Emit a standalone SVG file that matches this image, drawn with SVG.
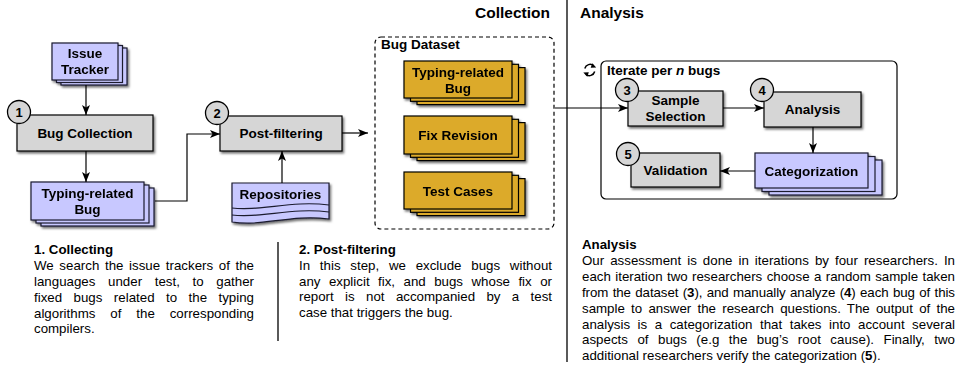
<svg xmlns="http://www.w3.org/2000/svg" width="977" height="368" viewBox="0 0 977 368">
<style>
text{font-family:"Liberation Sans",Arial,Helvetica,sans-serif;fill:#000}
.lbl{font-size:13.5px;font-weight:bold;text-anchor:middle}
.num{font-size:13px;font-weight:bold;text-anchor:middle}
.ttl{font-size:15.5px;font-weight:bold}
.hd{font-size:13.3px;font-weight:bold}
.bd{font-size:13.3px}
.gray{fill:#d6d6d6;stroke:#000;stroke-width:1.2}
.pur{fill:#c8c8ff;stroke:#1a1a2e;stroke-width:1.2}
.gold{fill:#dcaa2a;stroke:#000;stroke-width:1.2}
.circ{fill:#d6d6d6;stroke:#000;stroke-width:1.3}
.conn path{fill:none;stroke:#000;stroke-width:1.2}
.div{stroke:#000;stroke-width:1.3}
</style>
<defs>
<marker id="ah" viewBox="0 0 10 8" refX="10" refY="4" markerWidth="10" markerHeight="8" orient="auto" markerUnits="userSpaceOnUse"><path d="M0,0 L10,4 L0,8 L2.5,4 Z" fill="#000"/></marker>
<filter id="sh" x="-10%" y="-10%" width="130%" height="140%"><feDropShadow dx="1.5" dy="2" stdDeviation="1.3" flood-color="#000" flood-opacity="0.55"/></filter>
</defs>
<rect width="977" height="368" fill="#fff"/>

<!-- titles and dividers -->
<text class="ttl" x="550" y="18" text-anchor="end">Collection</text>
<text class="ttl" x="580" y="18">Analysis</text>
<line class="div" x1="567" y1="0" x2="567" y2="362"/>
<line class="div" x1="278" y1="242" x2="278" y2="341"/>

<!-- Collection nodes -->
<g id="issue-tracker" filter="url(#sh)">
<rect class="pur" x="61" y="48" width="66" height="37"/>
<rect class="pur" x="56.5" y="45.5" width="66" height="37"/>
<rect class="pur" x="52" y="43" width="66" height="37"/>
<text class="lbl" x="85" y="58">Issue</text>
<text class="lbl" x="85" y="74">Tracker</text>
</g>

<g id="bug-collection">
<rect class="gray" x="17" y="115" width="136" height="36" filter="url(#sh)"/>
<text class="lbl" x="85" y="138">Bug Collection</text>
<circle class="circ" cx="19" cy="112" r="11.5"/>
<text class="num" x="19" y="116.5">1</text>
</g>

<g id="typing-related-bug" filter="url(#sh)">
<rect class="pur" x="41" y="188" width="113" height="38"/>
<rect class="pur" x="36" y="185" width="113" height="38"/>
<rect class="pur" x="31" y="182" width="113" height="38"/>
<text class="lbl" x="87.5" y="198">Typing-related</text>
<text class="lbl" x="87.5" y="214">Bug</text>
</g>

<g id="post-filtering">
<rect class="gray" x="220" y="116" width="122" height="35" filter="url(#sh)"/>
<text class="lbl" x="281" y="138">Post-filtering</text>
<circle class="circ" cx="217" cy="113" r="11.5"/>
<text class="num" x="217" y="117.5">2</text>
</g>

<g id="repositories" filter="url(#sh)">
<path class="pur" d="M232,183 H329 V219 C290,214 262,227 232,222 Z"/>
<path d="M232,208 C262,212 290,200 329,205" fill="none" stroke="#1a1a2e" stroke-width="1.2"/>
<path d="M232,215 C262,219 290,207 329,212" fill="none" stroke="#1a1a2e" stroke-width="1.2"/>
<text class="lbl" x="280.5" y="199">Repositories</text>
</g>

<g id="bug-dataset">
<rect x="375" y="37" width="179" height="192" rx="6" fill="none" stroke="#000" stroke-width="1.2" stroke-dasharray="4,3"/>
<text x="381" y="49" font-size="13.5px" font-weight="bold">Bug Dataset</text>
</g>

<g id="ds-typing-related-bug" filter="url(#sh)">
<rect class="gold" x="417" y="67.6" width="108" height="37"/>
<rect class="gold" x="410.5" y="64.3" width="108" height="37"/>
<rect class="gold" x="404" y="61" width="108" height="37"/>
<text class="lbl" x="458" y="77">Typing-related</text>
<text class="lbl" x="458" y="92.5">Bug</text>
</g>

<g id="fix-revision" filter="url(#sh)">
<rect class="gold" x="417" y="122.6" width="108" height="38"/>
<rect class="gold" x="410.5" y="119.3" width="108" height="38"/>
<rect class="gold" x="404" y="116" width="108" height="38"/>
<text class="lbl" x="458" y="140">Fix Revision</text>
</g>

<g id="test-cases" filter="url(#sh)">
<rect class="gold" x="417" y="178.6" width="108" height="37"/>
<rect class="gold" x="410.5" y="175.3" width="108" height="37"/>
<rect class="gold" x="404" y="172" width="108" height="37"/>
<text class="lbl" x="458" y="195.5">Test Cases</text>
</g>

<!-- Analysis nodes -->
<g id="iterate">
<rect x="601" y="61" width="296" height="138" rx="5" fill="#fff" stroke="#000" stroke-width="1.2"/>
<path d="M584.8,68.5 A5.5,5.5 0 0 1 593.8,65.8" fill="none" stroke="#000" stroke-width="1.5"/>
<path d="M594.7,71.5 A5.5,5.5 0 0 1 585.7,74.2" fill="none" stroke="#000" stroke-width="1.5"/>
<path d="M592.2,63.2 L596.2,67.4 L590.7,67.7 Z" fill="#000"/>
<path d="M587.3,76.8 L583.3,72.6 L588.8,72.3 Z" fill="#000"/>
<text x="607" y="75" font-size="13.5px" font-weight="bold">Iterate per <tspan font-style="italic">n</tspan> bugs</text>
</g>

<g id="sample-selection">
<rect class="gray" x="628" y="91" width="95" height="35" filter="url(#sh)"/>
<text class="lbl" x="675.5" y="105">Sample</text>
<text class="lbl" x="675.5" y="121">Selection</text>
<circle class="circ" cx="627" cy="90" r="11.5"/>
<text class="num" x="627" y="94.5">3</text>
</g>

<g id="analysis">
<rect class="gray" x="764" y="92" width="97" height="35" filter="url(#sh)"/>
<text class="lbl" x="812.5" y="114">Analysis</text>
<circle class="circ" cx="762" cy="90" r="11.5"/>
<text class="num" x="762" y="94.5">4</text>
</g>

<g id="categorization" filter="url(#sh)">
<rect class="pur" x="769" y="160" width="113" height="35"/>
<rect class="pur" x="762" y="156.5" width="113" height="35"/>
<rect class="pur" x="755" y="153" width="113" height="35"/>
<text class="lbl" x="811.5" y="175.5">Categorization</text>
</g>

<g id="validation">
<rect class="gray" x="631" y="153" width="89" height="34" filter="url(#sh)"/>
<text class="lbl" x="675.5" y="175">Validation</text>
<circle class="circ" cx="628" cy="154" r="11.5"/>
<text class="num" x="628" y="158.5">5</text>
</g>

<!-- connectors -->
<g class="conn" id="connectors">
<path d="M86,85 V115" marker-end="url(#ah)"/>
<path d="M86,151 V182" marker-end="url(#ah)"/>
<path d="M155,201 H187 V134 H220" marker-end="url(#ah)"/>
<path d="M282,183 V151" marker-end="url(#ah)"/>
<path d="M342,133 H368" marker-end="url(#ah)"/>
<path d="M555,108 H628" marker-end="url(#ah)"/>
<path d="M723,108 H764" marker-end="url(#ah)"/>
<path d="M813,127 V153" marker-end="url(#ah)"/>
<path d="M755,171 H720" marker-end="url(#ah)"/>
</g>

<!-- descriptions -->
<g id="desc-collecting">
<text class="hd" x="34" y="254">1. Collecting</text>
<text class="bd" x="34" y="270" word-spacing="1.93" textLength="220" lengthAdjust="spacing">We search the issue trackers of the</text>
<text class="bd" x="34" y="286" word-spacing="8.98" textLength="220" lengthAdjust="spacing">languages under test, to gather</text>
<text class="bd" x="34" y="301.5" word-spacing="7.77" textLength="220" lengthAdjust="spacing">fixed bugs related to the typing</text>
<text class="bd" x="34" y="317.5" word-spacing="11.24" textLength="220" lengthAdjust="spacing">algorithms of the corresponding</text>
<text class="bd" x="34" y="333">compilers.</text>
</g>

<g id="desc-postfiltering">
<text class="hd" x="299" y="253.5">2. Post-filtering</text>
<text class="bd" x="299" y="269.5" word-spacing="6.07" textLength="253" lengthAdjust="spacing">In this step, we exclude bugs without</text>
<text class="bd" x="299" y="285.5" word-spacing="4.78" textLength="253" lengthAdjust="spacing">any explicit fix, and bugs whose fix or</text>
<text class="bd" x="299" y="301" word-spacing="7.67" textLength="253" lengthAdjust="spacing">report is not accompanied by a test</text>
<text class="bd" x="299" y="317">case that triggers the bug.</text>
</g>

<g id="desc-analysis">
<text class="hd" x="582" y="249">Analysis</text>
<text class="bd" x="582" y="265" word-spacing="2.35" textLength="373" lengthAdjust="spacing">Our assessment is done in iterations by four researchers. In</text>
<text class="bd" x="582" y="281" word-spacing="0.7" textLength="373" lengthAdjust="spacing">each iteration two researchers choose a random sample taken</text>
<text class="bd" x="582" y="297" word-spacing="0.71" textLength="373" lengthAdjust="spacing">from the dataset (<tspan font-weight="bold">3</tspan>), and manually analyze (<tspan font-weight="bold">4</tspan>) each bug of this</text>
<text class="bd" x="582" y="312.5" word-spacing="2.51" textLength="373" lengthAdjust="spacing">sample to answer the research questions. The output of the</text>
<text class="bd" x="582" y="328.5" word-spacing="3.84" textLength="373" lengthAdjust="spacing">analysis is a categorization that takes into account several</text>
<text class="bd" x="582" y="344" word-spacing="5.71" textLength="373" lengthAdjust="spacing">aspects of bugs (e.g the bug’s root cause). Finally, two</text>
<text class="bd" x="582" y="360">additional researchers verify the categorization (<tspan font-weight="bold">5</tspan>).</text>
</g>
</svg>
